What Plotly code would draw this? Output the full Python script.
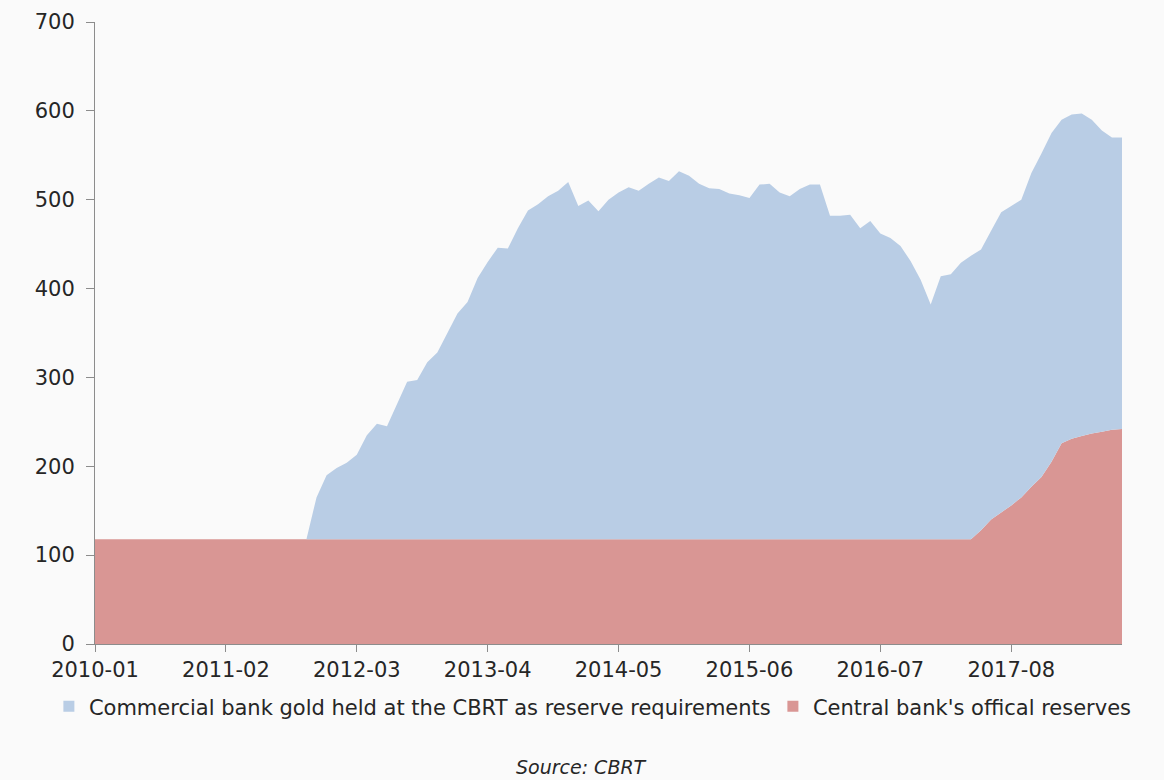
import pandas as pd
import plotly.graph_objects as go

# Monthly categories, 2010-01 .. 2018-07
months = [d.strftime("%Y-%m") for d in pd.date_range("2010-01-01", "2018-07-01", freq="MS")]

# Central bank's official gold reserves (tonnes)
official = [118] * 87 + [118, 128, 140, 148, 156, 165, 177, 188, 205, 226,
                         231, 234, 237, 239, 241, 242]

# Commercial bank gold held at the CBRT as reserve requirements (tonnes)
commercial = [0] * 22 + [
    47, 72, 80, 86, 95, 117, 130, 127, 152, 177,
    179, 199, 210, 232, 254, 267, 294, 312, 328, 327,
    350, 370, 377, 386, 392, 402, 375, 381, 369, 382,
    390, 396, 392, 400, 407, 403, 414, 409, 400, 395,
    394, 389, 387, 384, 399, 400, 390, 386, 394, 399,
    399, 364, 364, 365, 350, 358, 344, 339, 330, 313,
    292, 264, 296, 298, 311, 319, 316, 325, 338, 337,
    335, 353, 364, 370, 364, 365, 363, 353, 339, 329,
    328]

tick_labels = months[::13]

BLUE = "#B9CDE5"
RED = "#D99694"
BG = "#FAFAFA"
FONT = "DejaVu Sans"
TXT = "#262626"
SIZE = 21

fig = go.Figure()

fig.add_trace(go.Scatter(
    x=months, y=official, stackgroup="gold", mode="none",
    fillcolor=RED, showlegend=False,
    name="Central bank's offical reserves"))
fig.add_trace(go.Scatter(
    x=months, y=commercial, stackgroup="gold", mode="none",
    fillcolor=BLUE, showlegend=False,
    name="Commercial bank gold held at the CBRT as reserve requirements"))

# Legend entries as small square swatches, one legend box each
fig.add_trace(go.Scatter(
    x=[None], y=[None], mode="markers", legend="legend",
    marker=dict(symbol="square", size=11, color=BLUE),
    name="Commercial bank gold held at the CBRT as reserve requirements"))
fig.add_trace(go.Scatter(
    x=[None], y=[None], mode="markers", legend="legend2",
    marker=dict(symbol="square", size=11, color=RED),
    name="Central bank's offical reserves"))

legend_style = dict(orientation="h", xref="container", xanchor="left",
                    yref="container", y=0.094, yanchor="middle",
                    font=dict(family=FONT, size=SIZE, color=TXT),
                    bgcolor="rgba(0,0,0,0)", itemwidth=30)

fig.update_layout(
    width=1164, height=780,
    margin=dict(l=95, r=42, t=22, b=136, autoexpand=False),
    paper_bgcolor=BG, plot_bgcolor=BG,
    font=dict(family=FONT, size=SIZE, color=TXT),
    showlegend=True,
    legend=dict(x=0.042, **legend_style),
    legend2=dict(x=0.664, **legend_style),
    xaxis=dict(
        type="category", range=[0, len(months) - 1],
        tickmode="array", tickvals=tick_labels, ticktext=tick_labels,
        showgrid=False, zeroline=False,
        showline=True, linecolor="#8C8C8C", linewidth=1,
        ticks="outside", ticklen=7, tickcolor="#8C8C8C",
        tickfont=dict(family=FONT, size=SIZE, color=TXT),
    ),
    yaxis=dict(
        range=[0, 700], dtick=100, tick0=0,
        showgrid=False, zeroline=False,
        showline=True, linecolor="#8C8C8C", linewidth=1,
        ticks="outside", ticklen=8, tickcolor="#8C8C8C",
        ticklabelstandoff=7,
        tickfont=dict(family=FONT, size=SIZE, color=TXT),
    ),
    annotations=[dict(
        text="<i>Source: CBRT</i>", xref="paper", yref="paper",
        x=0.474, y=-0.219, xanchor="center", yanchor="bottom",
        showarrow=False, font=dict(family=FONT, size=SIZE - 2, color=TXT))],
)

fig.write_html("out.html")
